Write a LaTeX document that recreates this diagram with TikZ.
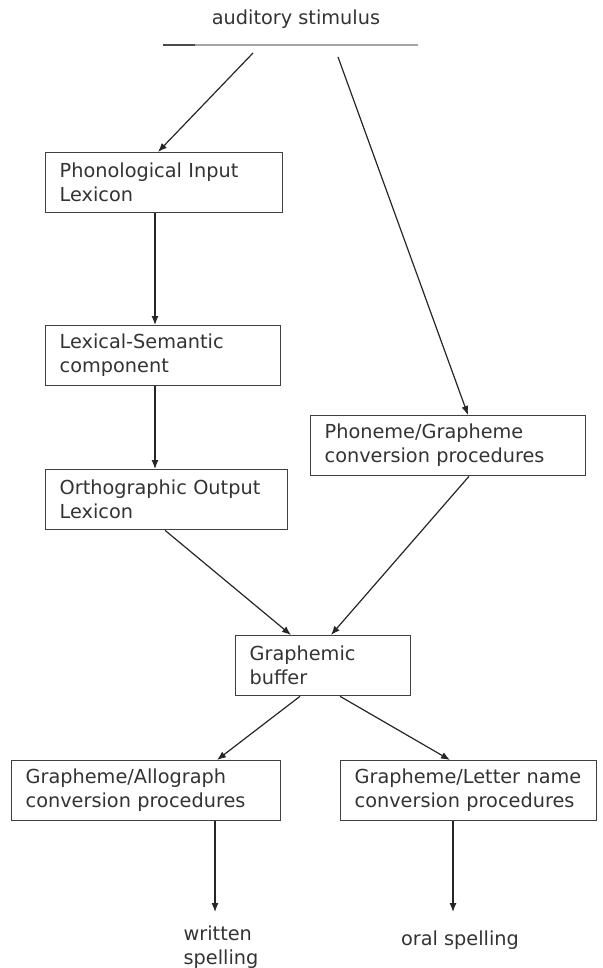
\documentclass[tikz,border=0pt]{standalone}
\usepackage{fontspec}
\setmainfont{DejaVu Sans}
\usepackage{tikz}
\usetikzlibrary{arrows.meta}

\begin{document}
\begin{tikzpicture}[x=1pt, y=-1pt,
  every node/.style={text=black!80, font=\fontsize{19.3}{24}\selectfont},
  box/.style={draw=black!75, line width=1.3pt, align=left, anchor=north west, minimum height=60pt, inner xsep=14pt, inner ysep=0pt},
  arr/.style={draw=black!85, line width=1.2pt, -{Latex[length=9pt, width=7pt]}}]
\useasboundingbox (0,0) rectangle (602,968);
% stimulus
\node (stim) at (296,19) {auditory stimulus};
\draw[line width=2.5pt, black!35] (163,45) -- (418,45);
\draw[line width=2.5pt, black!70] (163,45) -- (195,45);
\coordinate (s1) at (253,53);
\coordinate (s2) at (338,57);
% lexical route
\node[box, text width=209pt] (pil) at (45,152) {Phonological Input\\Lexicon};
\node[box, text width=207pt] (lexsem) at (45,325) {Lexical-Semantic\\component};
\node[box, text width=214pt] (ool) at (45,469) {Orthographic Output\\Lexicon};
% sublexical route
\node[box, text width=247pt] (pg) at (310,415) {Phoneme/Grapheme\\conversion procedures};
% buffer and output
\node[box, text width=147pt] (gb) at (235,635) {Graphemic\\buffer};
\node[box, text width=241pt] (ga) at (11,760) {Grapheme/Allograph\\conversion procedures};
\node[box, text width=228pt] (gl) at (340,760) {Grapheme/Letter name\\conversion procedures};
\coordinate (w1) at (215,912);
\coordinate (o1) at (453,912);
\node[align=left] (written) at (221,947) {written\\spelling};
\node (oral) at (460,940) {oral spelling};
% connectors
\draw[arr] (s1) -- ([xshift=113pt]pil.north west);
\draw[arr] (s2) -- ([xshift=158pt]pg.north west);
\draw[arr] ([xshift=110pt]pil.south west) -- ([xshift=110pt]lexsem.north west);
\draw[arr] ([xshift=110pt]lexsem.south west) -- ([xshift=110pt]ool.north west);
\draw[arr] ([xshift=120pt]ool.south west) -- ([xshift=56pt]gb.north west);
\draw[arr] ([xshift=159pt]pg.south west) -- ([xshift=96pt]gb.north west);
\draw[arr] ([xshift=65pt]gb.south west) -- ([xshift=206pt]ga.north west);
\draw[arr] ([xshift=105pt]gb.south west) -- ([xshift=110pt]gl.north west);
\draw[arr] ([xshift=204pt]ga.south west) -- (w1);
\draw[arr] ([xshift=113pt]gl.south west) -- (o1);
\end{tikzpicture}
\end{document}
